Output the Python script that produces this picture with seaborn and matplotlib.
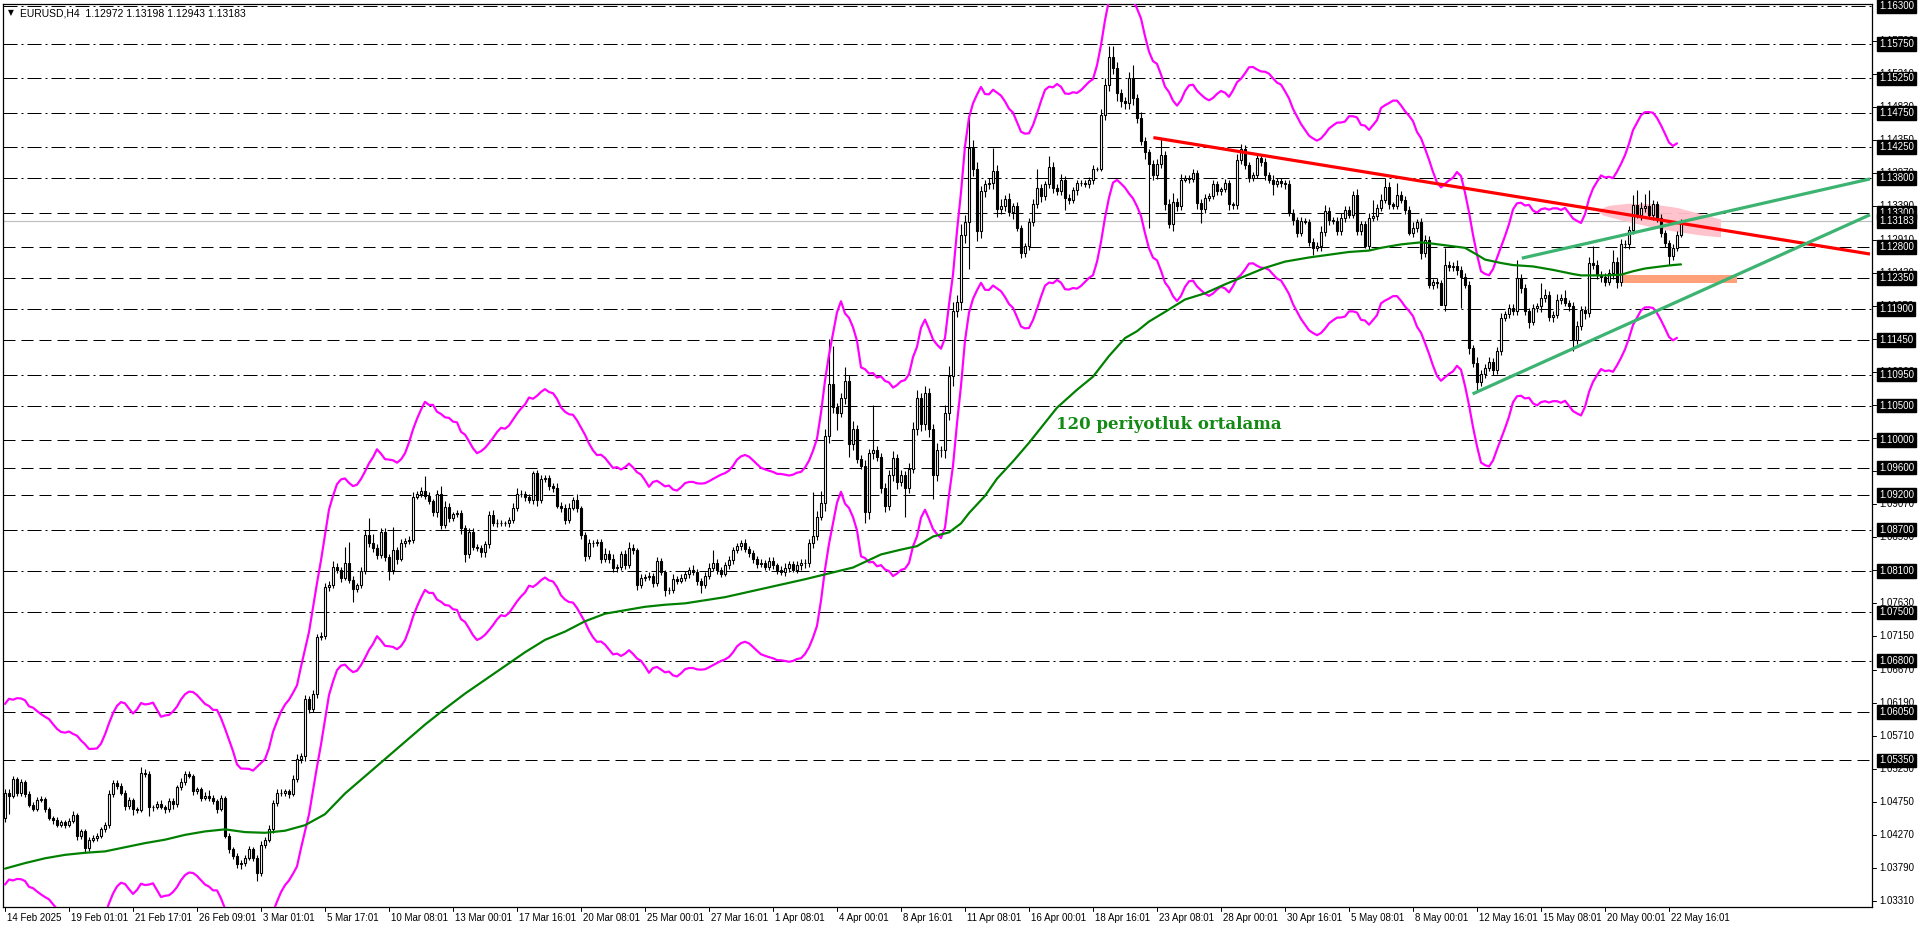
import numpy as np
import pandas as pd
import matplotlib
matplotlib.use("Agg")
import matplotlib.pyplot as plt
import matplotlib.transforms as mtransforms
from matplotlib.patches import Polygon, Rectangle
import seaborn as sns

# ---------------- data ----------------
first_open = 1.0452
close = [
 1.0488,1.0484,1.0508,1.0488,1.0503,1.0486,1.0471,1.0465,1.0478,1.0479,
 1.0464,1.0452,1.0448,1.0442,1.0445,1.0442,1.0447,1.0456,1.0425,1.0432,
 1.0408,1.0420,1.0422,1.0426,1.0435,1.0442,1.0486,1.0502,1.0498,1.0488,
 1.0469,1.0477,1.0464,1.0463,1.0517,1.0515,1.0467,1.0468,1.0472,1.0467,
 1.0464,1.0476,1.0472,1.0496,1.0503,1.0515,1.0513,1.0491,1.0493,1.0481,
 1.0484,1.0481,1.0476,1.0465,1.0481,1.0425,1.0406,1.0396,1.0384,1.0386,
 1.0394,1.0406,1.0394,1.0372,1.0413,1.0420,1.0435,1.0473,1.0488,1.0488,
 1.0490,1.0486,1.0508,1.0537,1.0542,1.0624,1.0610,1.0632,1.0714,1.0716,
 1.0787,1.0790,1.0816,1.0812,1.0800,1.0821,1.0797,1.0784,1.0789,1.0810,
 1.0862,1.0850,1.0843,1.0833,1.0867,1.0830,1.0811,1.0840,1.0828,1.0850,
 1.0853,1.0855,1.0918,1.0921,1.0926,1.0919,1.0911,1.0896,1.0921,1.0877,
 1.0903,1.0887,1.0892,1.0894,1.0872,1.0835,1.0867,1.0845,1.0843,1.0837,
 1.0849,1.0891,1.0879,1.0880,1.0879,1.0880,1.0884,1.0902,1.0922,1.0922,
 1.0917,1.0913,1.0952,1.0913,1.0943,1.0945,1.0933,1.0931,1.0905,1.0902,
 1.0884,1.0902,1.0913,1.0901,1.0862,1.0832,1.0851,1.0850,1.0852,1.0828,
 1.0835,1.0828,1.0814,1.0816,1.0834,1.0818,1.0844,1.0840,1.0789,1.0800,
 1.0801,1.0803,1.0793,1.0824,1.0808,1.0782,1.0782,1.0799,1.0796,1.0800,
 1.0805,1.0812,1.0808,1.0796,1.0790,1.0803,1.0815,1.0822,1.0812,1.0806,
 1.0818,1.0826,1.0840,1.0846,1.0850,1.0842,1.0836,1.0828,1.0820,1.0822,
 1.0816,1.0825,1.0818,1.0812,1.0808,1.0815,1.0820,1.0812,1.0818,1.0822,
 1.0821,1.0851,1.0861,1.0889,1.0909,1.1006,1.1081,1.1048,1.1040,1.1061,
 1.1086,1.0994,1.1016,1.0973,1.0963,1.0896,1.0981,1.0985,1.0976,1.0931,
 1.0904,1.0949,1.0974,1.0939,1.0949,1.0931,1.0958,1.1016,1.1061,1.1023,
 1.1068,1.1016,1.0949,1.0986,1.0986,1.1039,1.1093,1.1188,1.1201,1.1298,
 1.1316,1.1424,1.1393,1.1303,1.1361,1.1371,1.1373,1.1391,1.1336,1.1340,
 1.1350,1.1331,1.1339,1.1308,1.1272,1.1281,1.1317,1.1342,1.1366,1.1354,
 1.1371,1.1397,1.1366,1.1361,1.1378,1.1351,1.1349,1.1363,1.1373,1.1373,
 1.1371,1.1378,1.1393,1.1393,1.1472,1.1516,1.1556,1.1540,1.1504,1.1492,
 1.1489,1.1526,1.1497,1.1468,1.1434,1.1418,1.1400,1.1385,1.1400,1.1414,
 1.1342,1.1313,1.1346,1.1339,1.1378,1.1380,1.1379,1.1387,1.1344,1.1335,
 1.1352,1.1354,1.1371,1.1361,1.1364,1.1373,1.1342,1.1341,1.1407,1.1422,
 1.1399,1.1380,1.1385,1.1409,1.1404,1.1385,1.1378,1.1371,1.1376,1.1373,
 1.1371,1.1330,1.1320,1.1301,1.1318,1.1317,1.1288,1.1279,1.1281,1.1302,
 1.1333,1.1320,1.1318,1.1303,1.1322,1.1334,1.1327,1.1356,1.1303,1.1313,
 1.1281,1.1322,1.1325,1.1337,1.1349,1.1368,1.1342,1.1340,1.1355,1.1349,
 1.1334,1.1300,1.1308,1.1316,1.1271,1.1290,1.1225,1.1229,1.1228,1.1196,
 1.1254,1.1251,1.1253,1.1247,1.1237,1.1225,1.1133,1.1112,1.1085,1.1096,
 1.1105,1.1114,1.1102,1.1129,1.1177,1.1183,1.1192,1.1187,1.1235,1.1221,
 1.1187,1.1172,1.1192,1.1194,1.1206,1.1211,1.1179,1.1182,1.1204,1.1206,
 1.1199,1.1194,1.1145,1.1165,1.1189,1.1184,1.1257,1.1254,1.1240,1.1237,
 1.1230,1.1242,1.1259,1.1230,1.1284,1.1285,1.1305,1.1341,1.1327,1.1337,
 1.1339,1.1327,1.1342,1.1322,1.1300,1.1286,1.1267,1.1279,1.12972,1.13183,
]
upper_wick_pips = [
 5,6,4,3,5,3,4,3,4,5, 3,4,3,5,4,3,4,5,3,4, 3,4,5,3,4,3,6,5,4,4, 4,5,4,3,8,5,4,3,4,5,
 3,4,5,4,6,4,5,3,4,4, 5,8,4,3,4,3,4,3,4,5, 4,5,3,4,5,4,6,4,6,5, 4,3,6,8,4,6,5,5,4,5,
 5,6,8,5,4,24,31,5,4,6, 8,25,14,6,5,6,4,34,5,6, 5,6,6,5,6,22,5,4,6,12, 8,5,4,5,4,5,6,5,4,5,
 5,6,8,5,4,3,5,6,8,5, 4,5,3,5,6,5,4,5,6,5, 5,6,5,8,4,5,6,4,5,5, 8,5,6,4,5,6,8,5,4,5,
 4,5,4,6,5,4,5,6,4,5, 5,4,6,5,4,5,6,18,5,4, 5,6,5,4,5,6,4,5,4,5, 4,5,6,4,5,6,4,5,6,5,
 5,6,63,8,17,10,65,55,6,8, 20,8,12,6,5,8,6,66,6,5, 6,8,10,6,8,6,8,10,12,8, 10,8,8,10,6,12,14,12,10,15,
 10,49,12,10,8,6,8,33,8,10, 6,8,5,6,4,5,6,8,27,6, 5,15,6,5,8,5,6,5,4,5, 5,4,6,4,8,10,16,16,8,6,
 6,8,19,6,8,6,5,6,8,25, 6,8,12,6,8,5,4,6,5,6, 5,4,6,5,4,6,5,4,8,7, 6,5,4,8,6,5,4,6,5,4,
 4,6,5,4,6,5,4,5,6,8, 8,5,4,6,8,5,6,6,8,5, 5,8,24,6,8,12,6,4,18,6, 5,6,8,5,6,8,6,5,6,5,
 25,6,5,8,6,5,6,5,8,6, 5,6,5,6,8,5,6,5,27,6, 5,4,6,5,22,8,5,6,8,6, 12,5,6,8,6,5,8,24,8,5,
 5,6,17,6,8,5,6,14,22,8, 18,24,6,5,6,5,4,5,6,2,
]
lower_wick_pips = [
 6,27,3,5,4,4,3,4,3,4, 4,3,5,4,3,5,4,3,5,4, 7,4,3,4,3,4,5,4,5,3, 6,5,8,4,3,4,12,5,4,3,
 5,4,8,5,4,3,4,6,4,5, 4,5,4,6,4,3,5,4,5,6, 4,3,5,12,4,5,3,5,4,4, 5,6,3,4,5,8,6,5,6,4,
 5,6,4,5,6,3,4,19,5,4, 4,5,6,5,4,5,14,5,8,4, 5,4,5,4,3,5,4,6,8,6, 5,6,5,4,8,12,6,5,4,6,
 6,5,4,5,4,3,6,4,5,4, 5,4,6,8,5,4,5,6,4,6, 6,5,4,5,5,8,4,5,4,6, 5,6,5,6,4,5,4,5,7,4,
 5,4,6,5,4,8,5,4,5,4, 4,5,4,6,12,5,4,5,6,5, 4,5,6,4,5,4,5,6,5,4, 5,4,5,6,4,5,6,4,5,6,
 6,5,8,6,5,12,10,8,25,6, 8,18,8,6,5,17,10,8,6,8, 8,6,8,10,6,42,8,6,8,10, 8,12,35,8,10,12,10,14,10,12,
 12,67,10,14,10,8,6,8,12,8, 8,6,10,5,8,6,5,6,5,8, 6,5,8,6,5,17,6,5,8,4, 4,5,6,3,3,8,10,8,12,9,
 9,8,10,8,6,10,92,8,6,5, 8,5,10,6,5,4,6,5,8,20, 6,5,4,6,5,4,8,6,5,6, 5,6,4,5,6,8,5,16,4,5,
 6,5,8,6,5,4,6,10,5,6, 6,8,4,6,5,6,5,4,6,5, 2,5,4,6,4,5,6,5,4,5, 6,2,5,6,8,6,5,6,8,0,
 8,5,6,8,46,5,8,6,12,6, 6,5,8,6,5,4,6,5,6,8, 6,10,5,6,8,5,6,8,5,6, 5,6,16,6,5,8,6,5,6,8,
 6,5,8,10,6,5,8,6,5,8, 6,5,8,6,5,6,13,6,5,3,
]

# 120-period moving average at these bar numbers
ma_bars = [0,5,10,15,20,25,30,35,40,45,50,55,60,65,70,75,80,85,90,95,100,105,110,115,120,125,
           130,135,140,145,150,155,160,165,170,180,190,200,212,219,224,228,232,236,239,241,245,
           248,252,256,263,268,272,276,280,283,286,290,295,300,305,310,315,320,326,331,336,341,
           344,349,354,357,361,365,368,370,374,377,382,387,392,394,400,404,407,410,414,417,419]
ma_values = [1.0378,1.0386,1.0393,1.0398,1.0401,1.0403,1.0409,1.0415,1.0420,1.0427,1.0432,1.0435,
             1.0431,1.0430,1.0433,1.0441,1.0457,1.0487,1.0512,1.0537,1.0562,1.0587,1.0610,1.0632,
             1.0652,1.0672,1.0692,1.0710,1.0722,1.0737,1.0748,1.0753,1.0758,1.0761,1.0763,1.0772,
             1.0785,1.0798,1.0815,1.0834,1.0841,1.0846,1.0860,1.0866,1.0879,1.0894,1.0919,1.0944,
             1.0969,1.0996,1.1047,1.1073,1.1092,1.1122,1.1148,1.1158,1.1172,1.1186,1.1204,1.1213,
             1.1226,1.1238,1.1250,1.1259,1.1265,1.1269,1.1273,1.1275,1.1279,1.1284,1.1287,1.1285,
             1.1282,1.1279,1.1269,1.1262,1.1257,1.1254,1.1252,1.1247,1.1241,1.1239,1.1239,1.1240,
             1.1245,1.1249,1.1252,1.1254,1.1255]
envelope_period = 5
envelope_deviation_pct = 1.25

levels = [1.16300,1.15750,1.15250,1.14750,1.14250,1.13800,1.13300,1.12800,1.12350,1.11900,
          1.11450,1.10950,1.10500,1.10000,1.09600,1.09200,1.08700,1.08100,1.07500,1.06800,
          1.06050,1.05350]
level_styles = ["dd","dd","dd","dd","dd","dd","d","d","d","dd",
                "d","dd","dd","d","d","d","dd","dd","dd","dd",
                "d","d"]
current_price = 1.13183
axis_ticks = [1.0331,1.0379,1.0427,1.0475,1.0523,1.0571,1.0619,1.0667,1.0715,1.0763,1.0811,
              1.0859,1.0907,1.0955,1.1003,1.1051,1.1099,1.1147,1.1195,1.1243,1.1291,1.1339,
              1.1387,1.1435,1.1483,1.1531,1.1579]
date_labels = ["14 Feb 2025","19 Feb 01:01","21 Feb 17:01","26 Feb 09:01","3 Mar 01:01",
               "5 Mar 17:01","10 Mar 08:01","13 Mar 00:01","17 Mar 16:01","20 Mar 08:01",
               "25 Mar 00:01","27 Mar 16:01","1 Apr 08:01","4 Apr 00:01","8 Apr 16:01",
               "11 Apr 08:01","16 Apr 00:01","18 Apr 16:01","23 Apr 08:01","28 Apr 00:01",
               "30 Apr 16:01","5 May 08:01","8 May 00:01","12 May 16:01","15 May 08:01",
               "20 May 00:01","22 May 16:01"]
date_label_bars = [0,16,32,48,64,80,96,112,128,144,160,176,192,208,224,240,256,272,288,
                   304,320,336,352,368,384,400,416]

red_line_bars = [287.1, 466.25]
red_line_prices = [1.1439, 1.1270]
green_up_bars = [379.2, 466.25]
green_up_prices = [1.1264, 1.1379]
green_low_bars = [366.9, 466.25]
green_low_prices = [1.1067, 1.1327]
orange_zone_bars = [404.2, 433.0]
orange_zone_prices = [1.1228, 1.1239]
pink_zone_bars = [398.0, 401.0, 406.0, 412.0, 418.0, 424.0, 429.0, 429.0, 424.0, 417.0, 410.0, 404.0, 399.5]
pink_zone_prices = [1.1333, 1.1340, 1.1343, 1.1342, 1.1337, 1.1328, 1.1320, 1.1294, 1.1297, 1.1303, 1.1311, 1.1319, 1.1326]
header = "EURUSD,H4  1.12972 1.13198 1.12943 1.13183"
ma_label = "120 periyotluk ortalama"

# ---------------- figure ----------------
sns.set_theme(style="white")
plt.rcParams['font.family'] = ['Liberation Sans', 'DejaVu Sans']

W, H = 1920, 927
fig = plt.figure(figsize=(W / 100, H / 100), dpi=100)
fig.patch.set_facecolor("white")
ax_l, ax_r, ax_t, ax_b = 3, 1872, 4, 907
ax = fig.add_axes([ax_l / W, 1 - ax_b / H, (ax_r - ax_l) / W, (ax_b - ax_t) / H])
ax.set_facecolor("white")
ax.set_xticks([])
ax.set_yticks([])
for s in ax.spines.values():
    s.set_color("black")
    s.set_linewidth(0.9)

px = 0.72  # one pixel in points

# horizontal levels
for lv, st in zip(levels, level_styles):
    dashes = (14, 4, 2, 4) if st == "dd" else (12, 6)
    ax.axhline(lv, color="black", lw=px, dashes=dashes, zorder=1)
ax.axhline(current_price, color="#c0c0c0", lw=px * 1.2, zorder=1)

# zones
ax.add_patch(Polygon(np.column_stack([pink_zone_bars, pink_zone_prices]), closed=True,
                     facecolor="#ffc0cb", edgecolor="none", alpha=0.95, zorder=1.5))
ax.add_patch(Rectangle((orange_zone_bars[0], orange_zone_prices[0]),
                       orange_zone_bars[1] - orange_zone_bars[0],
                       orange_zone_prices[1] - orange_zone_prices[0],
                       facecolor="#ffa07a", edgecolor="none", zorder=1.5))

# candles
c = np.array(close)
o = np.concatenate([[first_open], c[:-1]])
hi = np.maximum(o, c) + np.array(upper_wick_pips) * 1e-4
lo = np.minimum(o, c) - np.array(lower_wick_pips) * 1e-4
x = np.arange(len(c))
ax.vlines(x, lo, hi, color="black", lw=px * 1.1, zorder=3)
bull = c >= o
bear = ~bull
ax.bar(x[bull], np.maximum(c[bull] - o[bull], 1e-6), bottom=o[bull], width=0.5,
       color="white", edgecolor="black", linewidth=px * 1.1, zorder=4)
ax.bar(x[bear], o[bear] - c[bear], bottom=c[bear], width=0.5,
       color="black", edgecolor="black", linewidth=px * 1.1, zorder=4)

# envelopes (SMA 5, shifted one bar back, +/- 1.25 %)
mid = pd.Series(c).rolling(envelope_period, min_periods=1).mean().shift(-1)
env = pd.DataFrame({"bar": x, "upper": mid * (1 + envelope_deviation_pct / 100),
                    "lower": mid * (1 - envelope_deviation_pct / 100)}).dropna()
sns.lineplot(data=env, x="bar", y="upper", ax=ax, color="#ff00ff", lw=px * 2.2,
             estimator=None, sort=False, legend=False, zorder=5)
sns.lineplot(data=env, x="bar", y="lower", ax=ax, color="#ff00ff", lw=px * 2.2,
             estimator=None, sort=False, legend=False, zorder=5)

# moving average
sns.lineplot(x=ma_bars, y=ma_values, ax=ax, color="#008000", lw=px * 2.2,
             estimator=None, sort=False, legend=False, zorder=5)

# trend lines
ax.plot(red_line_bars, red_line_prices, color="#ff0000", lw=px * 3.2, zorder=6,
        solid_capstyle="butt")
ax.plot(green_up_bars, green_up_prices, color="#3cb371", lw=px * 3.2, zorder=6,
        solid_capstyle="butt")
ax.plot(green_low_bars, green_low_prices, color="#3cb371", lw=px * 3.2, zorder=6,
        solid_capstyle="butt")
ax.set_xlim(-0.5, 466.75)
ax.set_ylim(1.03223, 1.16329)
ax.set_xlabel("")
ax.set_ylabel("")

# MA label
ax.text(262.8, 1.1022, ma_label, color="#138a13", fontsize=12, fontweight="bold",
        family=["DejaVu Serif"], va="center", ha="left", zorder=7)

# header
fig.text(8 / W, 1 - 13 / H, "\u25BC", fontsize=5.5, family=["DejaVu Sans"], va="center",
         ha="left", color="black")
fig.text(20 / W, 1 - 13 / H, header, fontsize=7.5, va="center", ha="left", color="black")

# right price axis
tr_r = mtransforms.blended_transform_factory(fig.transFigure, ax.transData)
tr_tick = mtransforms.blended_transform_factory(ax.transAxes, ax.transData)
for t in axis_ticks:
    ax.plot([1.0, 1.0 + 4 / (ax_r - ax_l)], [t, t], transform=tr_tick,
            color="black", lw=px, clip_on=False)
    fig.text(1879 / W, t, f"{t:.5f}", transform=tr_r, fontsize=7, va="center", ha="left",
             color="#000000", zorder=2)
for lv in levels + [current_price]:
    fig.text(1879 / W, lv, f"{lv:.5f}", transform=tr_r, fontsize=7, va="center", ha="left",
             color="white", zorder=3,
             bbox=dict(boxstyle="square,pad=0.18", facecolor="black", edgecolor="black"))

# bottom time axis
tr_b = mtransforms.blended_transform_factory(ax.transData, fig.transFigure)
tr_btick = mtransforms.blended_transform_factory(ax.transData, ax.transAxes)
for b, lab in zip(date_label_bars, date_labels):
    ax.plot([b, b], [0, -4 / (ax_b - ax_t)], transform=tr_btick,
            color="black", lw=px, clip_on=False)
    fig.text(b + 0.5, 1 - 918 / H, lab, transform=tr_b, fontsize=7, va="center", ha="left",
             color="black")

fig.savefig("out.png", dpi=100, facecolor="white")
